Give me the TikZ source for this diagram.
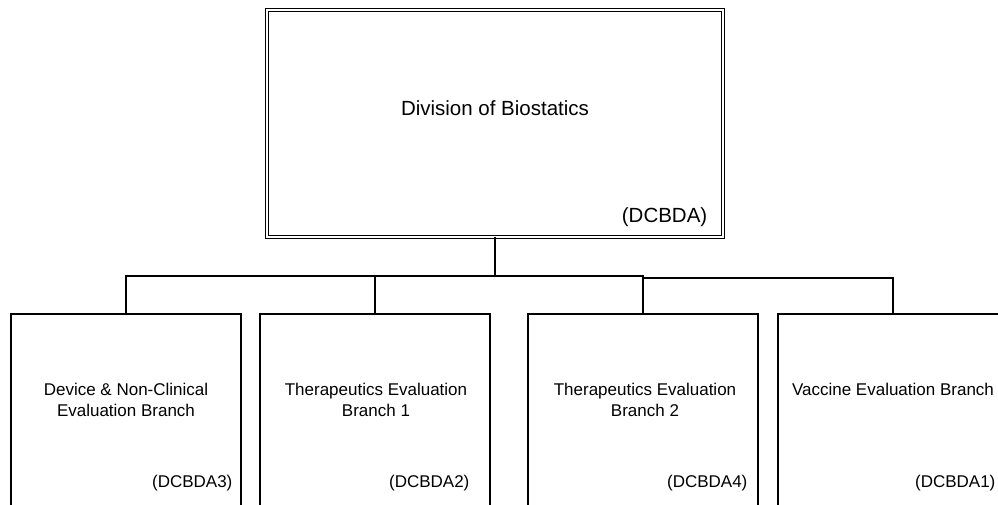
\documentclass[tikz,border=0pt]{standalone}
\usepackage{fontspec}
\setmainfont{Liberation Sans}
\usetikzlibrary{positioning}

\begin{document}
\begin{tikzpicture}[x=1pt, y=1pt,
    divbox/.style={rectangle, draw=black, line width=1pt, double, double distance=1.6pt, minimum width=456pt, minimum height=227pt},
    branchbox/.style={rectangle, draw=black, line width=1.2pt, minimum width=230pt, minimum height=220pt},
    boxtitle/.style={align=center, font=\fontsize{17}{21}\selectfont},
    boxcode/.style={anchor=base east, inner sep=0pt, font=\fontsize{17}{21}\selectfont},
    link/.style={draw=black, line width=1.2pt}]

    \useasboundingbox (0,0) rectangle (998,505);
    \clip (0,0) rectangle (998,505);

    % Division box
    \node[divbox] (div) at (495,381.5) {};
    \node[boxtitle, font=\fontsize{20.5}{24}\selectfont] (divname) at (495,397) {Division of Biostatics};
    \node[boxcode, font=\fontsize{20.5}{24}\selectfont] (divcode) at ([xshift=-16pt,yshift=14.5pt]div.south east) {(DCBDA)};

    % Branch boxes
    \node[branchbox] (b1) at (126,81) {};
    \node[branchbox] (b2) at (375,81) {};
    \node[branchbox] (b3) at (643,81) {};
    \node[branchbox] (b4) at (893,81) {};

    \node[boxtitle] (b1name) at (126,105) {Device \& Non-Clinical\\Evaluation Branch};
    \node[boxtitle] (b2name) at (376,105) {Therapeutics Evaluation\\Branch 1};
    \node[boxtitle] (b3name) at (645,105) {Therapeutics Evaluation\\Branch 2};
    \node[boxtitle] (b4name) at (893,116) {Vaccine Evaluation Branch};

    \node[boxcode] (b1code) at ([xshift=-9pt,yshift=-174pt]b1.north east) {(DCBDA3)};
    \node[boxcode] (b2code) at ([xshift=-21pt,yshift=-174pt]b2.north east) {(DCBDA2)};
    \node[boxcode] (b3code) at ([xshift=-11pt,yshift=-174pt]b3.north east) {(DCBDA4)};
    \node[boxcode] (b4code) at ([xshift=-13pt,yshift=-174pt]b4.north east) {(DCBDA1)};

    % Connectors
    \coordinate (bus) at (495,229);
    \draw[link] (div.south) -- (div.south |- bus);
    \draw[link] (b1.north) |- (b3.north |- bus) -- (b3.north);
    \draw[link] (b2.north) -- (b2.north |- bus);
    \draw[link] (b4.north) |- ([yshift=-2pt]b3.north |- bus);
\end{tikzpicture}
\end{document}
